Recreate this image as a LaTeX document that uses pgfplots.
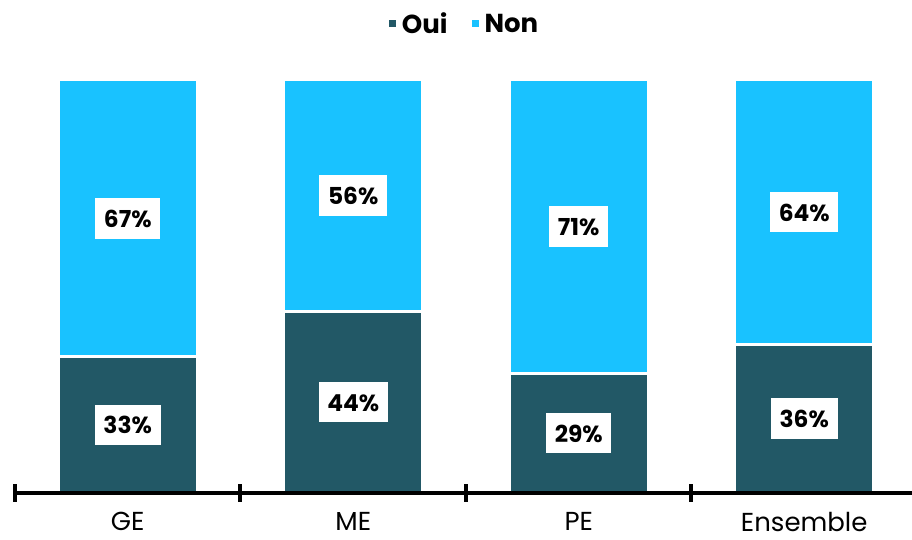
\documentclass[border=0pt]{standalone}
\usepackage{fontspec}
\setmainfont{Poppins}
\usepackage{pgfplots}
\pgfplotsset{compat=1.18}
\definecolor{oui}{HTML}{225866}
\definecolor{non}{HTML}{19C2FF}

\begin{document}
\begin{tikzpicture}
\begin{axis}[
  name=main,
  width=672.75pt, height=309.75pt, scale only axis,
  ybar stacked, bar width=104pt,
  xmin=-0.5, xmax=3.478, ymin=0, ymax=100,
  axis x line*=bottom, axis y line=none,
  x axis line style={line width=3pt},
  xtick={0,1,2,3}, xticklabels={GE,ME,PE,Ensemble},
  major tick length=0pt,
  extra x ticks={-0.5,0.5,1.5,2.5},
  extra x tick labels={},
  extra x tick style={major tick length=13pt, tick align=center, tick style={line width=3pt, black}},
  xticklabel style={font=\fontsize{19.5}{22}\selectfont, inner sep=0pt, yshift=-14pt},
  legend style={at={(0.5,1)}, anchor=center, yshift=42pt, draw=none,
    font=\bfseries\fontsize{19.5}{22}\selectfont,
    /tikz/every even column/.append style={column sep=14pt}},
  legend columns=2,
  legend image code/.code={\fill (0pt,-3.75pt) rectangle (7.5pt,3.75pt);},
  axis on top,
]
% Oui
\addplot[fill=oui, draw=white, line width=2.25pt] coordinates {(0,33) (1,44) (2,29) (3,36)};
\addlegendentry{Oui}
% Non
\addplot[fill=non, draw=white, line width=2.25pt] coordinates {(0,67) (1,56) (2,71) (3,64)};
\addlegendentry{Non}
\end{axis}

% value labels, at the middle of each segment
\begin{axis}[
  at={(main.south west)}, anchor=south west,
  width=672.75pt, height=309.75pt, scale only axis,
  xmin=-0.5, xmax=3.478, ymin=0, ymax=100,
  hide axis,
  nodes near coords, point meta=explicit symbolic,
  nodes near coords style={anchor=center, fill=white, text=black,
    font=\bfseries\fontsize{17.5}{20}\selectfont,
    text height=13.5pt, text depth=0pt, inner xsep=6.5pt, inner ysep=8.5pt},
]
\addplot[draw=none, mark=none] coordinates {
  (0,16.5) [33\%] (1,22) [44\%] (2,14.5) [29\%] (3,18) [36\%]
};
\addplot[draw=none, mark=none] coordinates {
  (0,66.5) [67\%] (1,72) [56\%] (2,64.5) [71\%] (3,68) [64\%]
};
\end{axis}

\pgfresetboundingbox
\path[use as bounding box] ([xshift=-11.25pt,yshift=-34.5pt]main.south west) rectangle ([yshift=60pt]main.north east);
\end{tikzpicture}
\end{document}
